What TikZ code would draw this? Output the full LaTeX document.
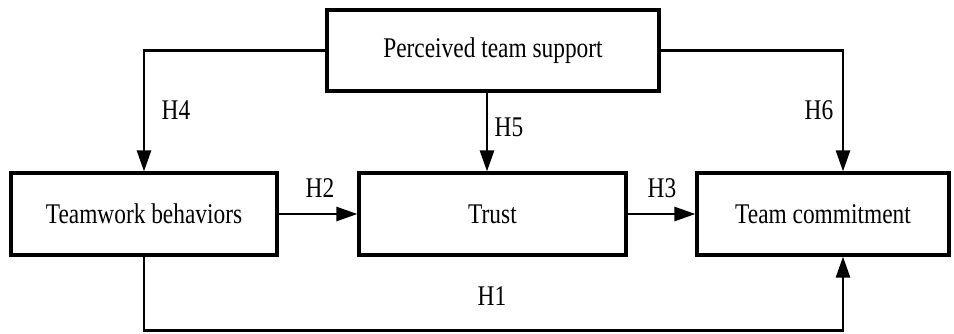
\documentclass[tikz,border=0pt]{standalone}
\usepackage{fontspec}
\setmainfont{Liberation Serif}
\newfontfamily\labfont[FakeStretch=0.82]{Liberation Serif}
\usetikzlibrary{arrows.meta}
\begin{document}
\begin{tikzpicture}[x=1pt,y=-1pt,
  box/.style={draw=black,line width=3.2pt,rectangle,inner sep=0pt,
    font=\labfont\fontsize{28.5}{30}\selectfont},
  conn/.style={draw=black,line width=2.6pt,
    -{Triangle[length=21pt,width=14pt]}},
  tag/.style={font=\labfont\fontsize{28.5}{30}\selectfont,inner sep=0pt}]
  \useasboundingbox (0,0) rectangle (954,333);

  % constructs
  \node[box,minimum width=332pt,minimum height=81pt] (support) at (493,50.5) {Perceived team support};
  \node[box,minimum width=266pt,minimum height=82pt] (behav) at (144,214) {Teamwork behaviors};
  \node[box,minimum width=267pt,minimum height=82pt] (trust) at (492.5,214) {Trust};
  \node[box,minimum width=252pt,minimum height=82pt] (commit) at (823,214) {Team commitment};

  % paths
  \draw[conn] (support.west) -| (behav.north);
  \draw[conn] ([xshift=-6pt]support.south) -- ([xshift=-6pt]support.south |- trust.north);
  \draw[conn] (support.east) -| ([xshift=20pt]commit.north);
  \draw[conn] (behav.east) -- (trust.west);
  \draw[conn] (trust.east) -- (commit.west);
  \coordinate (low) at (492,330.5);
  \draw[conn] (behav.south) |- (low) -| ([xshift=20pt]commit.south);

  % hypothesis labels
  \node[tag] (h4) at (176,110) {H4};
  \node[tag] (h5) at (509,127) {H5};
  \node[tag] (h6) at (819,110) {H6};
  \node[tag] (h2) at (320,188) {H2};
  \node[tag] (h3) at (662,188) {H3};
  \node[tag] (h1) at (492,296) {H1};
\end{tikzpicture}
\end{document}
